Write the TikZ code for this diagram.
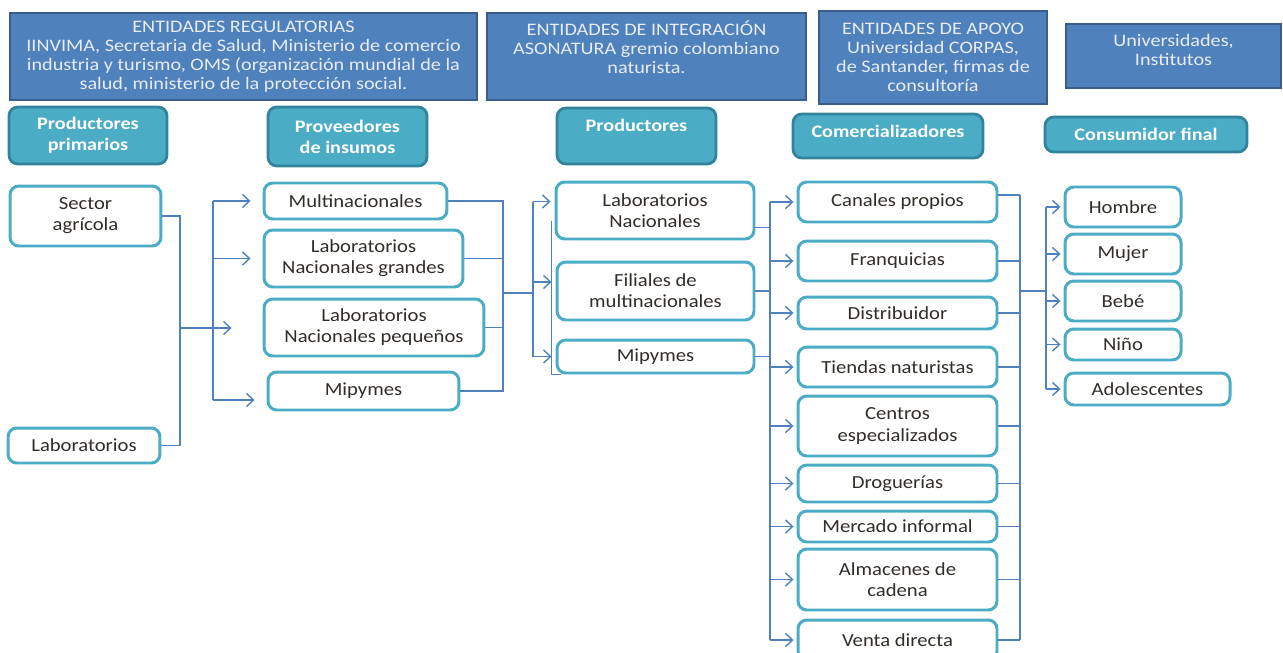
\documentclass[tikz,border=0pt]{standalone}
\usepackage{fontspec}
\setmainfont{Carlito}[FakeStretch=1.15]
\newfontfamily\boxfont{Carlito}[FakeStretch=1.12]
\usepackage{xcolor}
\usetikzlibrary{arrows.meta,positioning}

\definecolor{hdrblue}{RGB}{79,129,189}
\definecolor{hdrline}{RGB}{56,93,138}
\definecolor{hdrtext}{RGB}{232,236,244}
\definecolor{catfill}{RGB}{75,172,198}
\definecolor{catline}{RGB}{49,132,155}
\definecolor{linkblue}{RGB}{79,129,189}
\definecolor{boxtext}{RGB}{50,45,40}

\tikzset{
  hdr/.style={draw=hdrline, fill=hdrblue, line width=1.4pt, text=hdrtext, align=center,
    font=\fontsize{10}{10.8}\selectfont, inner sep=1pt},
  cat/.style={draw=catline, fill=catfill, line width=1.6pt, rounded corners=5pt, text=white,
    align=center, font=\fontsize{10}{12}\selectfont\bfseries, inner sep=1pt},
  item/.style={draw=catfill, fill=white, line width=1.7pt, rounded corners=5pt, text=boxtext,
    align=center, font=\boxfont\fontsize{10.5}{12}\selectfont, inner sep=1pt},
  link/.style={draw=linkblue, line width=0.8pt},
  arr/.style={link, -{Straight Barb[length=4pt,width=7.5pt]}},
}

\begin{document}
\begin{tikzpicture}[x=0.02cm, y=-0.02cm]
\useasboundingbox (0,0) rectangle (1283,652);

% entidades
\node (reg) [hdr, minimum width=9.34cm, minimum height=1.74cm] at (243.5,56.5) {ENTIDADES REGULATORIAS\\IINVIMA, Secretaria de Salud, Ministerio de comercio\\industria y turismo, OMS (organización mundial de la\\salud, ministerio de la protección social.};
\node (integ) [hdr, minimum width=6.38cm, minimum height=1.74cm] at (646.5,56.5) {ENTIDADES DE INTEGRACIÓN\\ASONATURA gremio colombiano\\naturista.\\\mbox{}};
\node (apoyo) [hdr, minimum width=4.56cm, minimum height=1.86cm] at (933,57.5) {ENTIDADES DE APOYO\\Universidad CORPAS,\\de Santander, firmas de\\consultoría};
\node (univ) [hdr, minimum width=4.3cm, minimum height=1.28cm] at (1173.5,56) {Universidades,\\Institutos\\[-4pt]\mbox{}};

% eslabones
\node (pp) [cat, minimum width=3.16cm, minimum height=1.14cm] at (88,135.5) {Productores\\primarios};
\node (prov) [cat, minimum width=3.18cm, minimum height=1.18cm] at (347.5,136.5) {Proveedores\\de insumos};
\node (prod) [cat, minimum width=3.18cm, minimum height=1.12cm] at (636.5,136) {Productores\\\mbox{}};
\node (com) [cat, minimum width=3.8cm, minimum height=0.88cm] at (888,136) {Comercializadores\\[-7pt]\mbox{}};
\node (cf) [cat, minimum width=4.04cm, minimum height=0.7cm] at (1146,134.5) {Consumidor final};

% productores primarios
\node (sa) [item, minimum width=3.02cm, minimum height=1.2cm] at (85.5,216) {Sector\\agrícola};
\node (lab) [item, minimum width=3.04cm, minimum height=0.7cm] at (84,445.5) {Laboratorios};

% proveedores de insumos
\node (multi) [item, minimum width=3.66cm, minimum height=0.72cm] at (355.5,201) {Multinacionales};
\node (lng) [item, minimum width=3.98cm, minimum height=1.14cm] at (363.5,258.5) {Laboratorios\\Nacionales grandes};
\node (lnp) [item, minimum width=4.4cm, minimum height=1.14cm] at (374,327.5) {Laboratorios\\Nacionales pequeños};
\node (mip1) [item, minimum width=3.82cm, minimum height=0.76cm] at (363.5,391) {Mipymes};

% productores
\node (labn) [item, minimum width=3.96cm, minimum height=1.14cm] at (655,210.5) {Laboratorios\\Nacionales};
\node (fil) [item, minimum width=3.94cm, minimum height=1.16cm] at (655.5,291) {Filiales de\\multinacionales};
\node (mip2) [item, minimum width=3.94cm, minimum height=0.66cm] at (655.5,356.5) {Mipymes};

% comercializadores
\node (can) [item, minimum width=3.98cm, minimum height=0.8cm] at (897.5,202) {Canales propios};
\node (fra) [item, minimum width=3.98cm, minimum height=0.8cm] at (897.5,261) {Franquicias};
\node (dis) [item, minimum width=3.98cm, minimum height=0.64cm] at (897.5,313) {Distribuidor};
\node (tie) [item, minimum width=3.98cm, minimum height=0.8cm] at (897.5,367) {Tiendas naturistas};
\node (cen) [item, minimum width=3.98cm, minimum height=1.2cm] at (897.5,426) {Centros\\especializados};
\node (dro) [item, minimum width=3.98cm, minimum height=0.74cm] at (897.5,483.5) {Droguerías};
\node (mer) [item, minimum width=3.98cm, minimum height=0.62cm] at (897.5,526.5) {Mercado informal};
\node (alm) [item, minimum width=3.98cm, minimum height=1.22cm] at (897.5,579.5) {Almacenes de\\cadena};
\node (ven) [item, minimum width=3.98cm, minimum height=0.8cm] at (897.5,640) {Venta directa};

% consumidor final
\node (hom) [item, minimum width=2.32cm, minimum height=0.8cm] at (1123,207) {Hombre};
\node (muj) [item, minimum width=2.32cm, minimum height=0.8cm] at (1123,254) {Mujer};
\node (beb) [item, minimum width=2.32cm, minimum height=0.8cm] at (1123,301) {Bebé};
\node (nin) [item, minimum width=2.32cm, minimum height=0.62cm] at (1123,344.5) {Niño};
\node (ado) [item, minimum width=3.3cm, minimum height=0.64cm] at (1147.5,389) {Adolescentes};

% primarios -> insumos
\coordinate (j1) at (180,328);
\draw[link] (sa.east) -| (j1) |- (lab.east);
\draw[arr, shorten >=0.62cm] (j1) -- (j1 -| lnp.west);
\coordinate (s2) at (213,0);
\coordinate (m1in) at ([yshift=-0.18cm]mip1.west);
\draw[link] (s2 |- multi) -- (s2 |- m1in);
\foreach \n in {multi,lng,m1in}
  \draw[arr, shorten >=0.24cm] (s2 |- \n) -- (\n);

% insumos -> productores
\coordinate (j2) at (503,293);
\foreach \n in {multi,lng,lnp,mip1}
  \draw[link] (\n.east) -| (j2);
\coordinate (s3) at (533,293);
\draw[link] (j2) -- (s3);
\coordinate (lnin) at ([yshift=0.18cm]labn.west);
\coordinate (filin) at ([yshift=0.18cm]fil.west);
\draw[link] (s3 |- lnin) -- (s3 |- mip2);
\foreach \n in {lnin,filin,mip2}
  \draw[arr, shorten >=0.08cm] (s3 |- \n) -- (\n);
\draw[link] ([xshift=-0.06cm,yshift=-0.2cm]labn.west) |- ([xshift=0.1cm]mip2.south west);

% productores -> comercializadores
\coordinate (s4) at (770,0);
\coordinate (lnout) at ([yshift=-0.34cm]labn.east);
\draw[link] (lnout) -- (lnout -| s4);
\draw[link, line width=1.2pt] (fil.east) -- (fil.east -| s4);
\draw[link] (mip2.east) -- (mip2.east -| s4);
\draw[link] (s4 |- can) -- (s4 |- ven);
\foreach \n in {can,fra,dis,tie,cen,dro,mer,alm,ven}
  \draw[arr, shorten >=0.06cm] (s4 |- \n) -- (\n);

% comercializadores -> consumidor
\coordinate (s5) at (1020,0);
\coordinate (canout) at ([yshift=0.14cm]can.east);
\draw[link] (canout) -- (canout -| s5);
\foreach \n in {fra,dis,tie,cen,dro,mer,alm,ven}
  \draw[link] (\n.east) -- (\n.east -| s5);
\draw[link] (s5 |- canout) -- (s5 |- ven);
\coordinate (s6) at (1046,291);
\draw[link] (s5 |- s6) -- (s6);
\draw[link] (s6 |- hom) -- (s6 |- ado);
\foreach \n in {hom,muj,beb,nin,ado}
  \draw[arr, shorten >=0.06cm] (s6 |- \n) -- (\n);
\end{tikzpicture}
\end{document}
